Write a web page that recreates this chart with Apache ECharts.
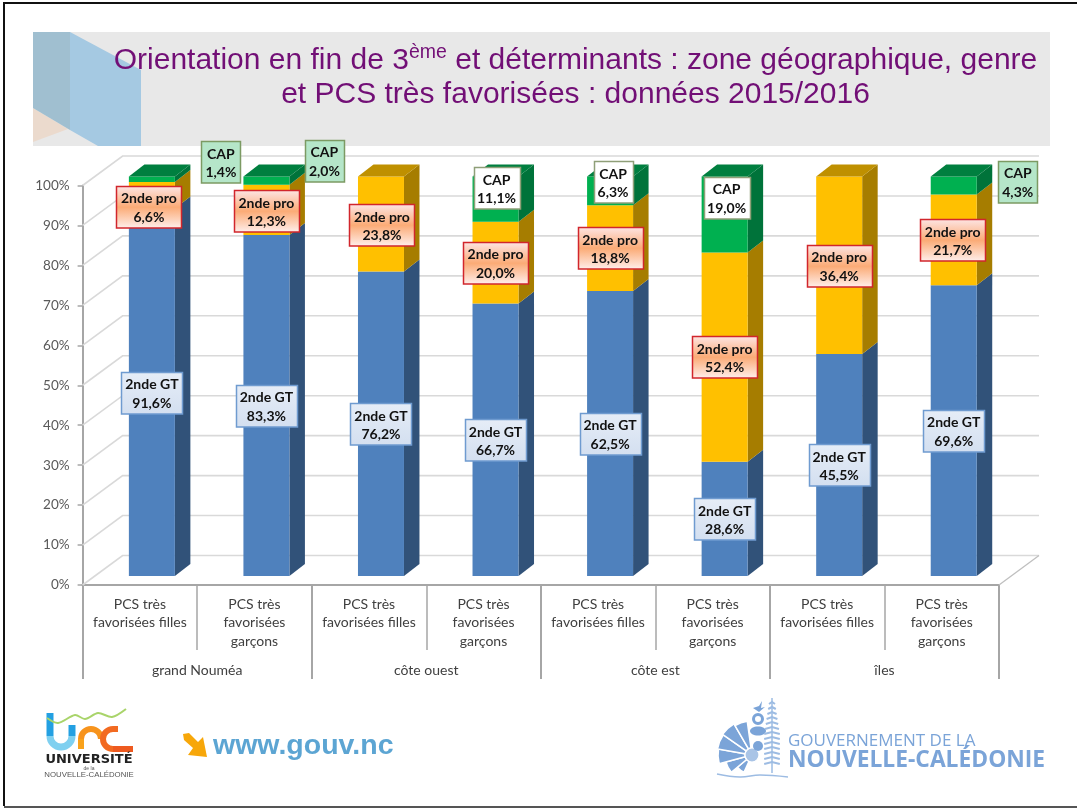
<!DOCTYPE html>
<html><head><meta charset="utf-8">
<style>html,body{margin:0;padding:0;background:#fff}#c{width:1077px;height:809px}</style>
<script src="https://cdn.jsdelivr.net/npm/echarts@6/dist/echarts.min.js"></script>
</head><body><div id="c"></div>
<script>
const categories = ['PCS très\nfavorisées filles','PCS très\nfavorisées\ngarçons','PCS très\nfavorisées filles','PCS très\nfavorisées\ngarçons','PCS très\nfavorisées filles','PCS très\nfavorisées\ngarçons','PCS très\nfavorisées filles','PCS très\nfavorisées\ngarçons'];
const groups = ['grand Nouméa','côte ouest','côte est','îles'];
const yTicks = [0,10,20,30,40,50,60,70,80,90,100];
const gt  = [91.6,83.3,76.2,66.7,62.5,28.6,45.5,69.6];
const pro = [6.6,12.3,23.8,20.0,18.8,52.4,36.4,21.7];
const cap = [1.4,2.0,0,11.1,6.3,19.0,0,4.3];

// hand-placed label nudges (px) as in the reference
const proNudge = [[-3,11],[0,1],[1,1],[0,0],[0,0],[0,0],[0,0],[-1,0]];
const capNudge = [[69,-17.5],[58,-20],[0,0],[1,-11],[3,-9],[2,-17],[0,0],[64,-4]];
const capTinted = [true,true,false,false,false,false,false,true];

const totals = gt.map((v,i)=>v+pro[i]+cap[i]);
const G = echarts.graphic;
const BAR = {left:-11,width:46,dy:-9,depthX:15.5,depthY:-12};
const WALL = {x:40,y:-29.5};
const labelFont = 'bold 14px Lato';

function fmt(v){return v.toFixed(1).replace('.',',')+'%';}

function labelBox(cx,cy,w,name,val,fill,stroke){
  const h=41.5;
  return [
    {type:'rect',shape:{x:Math.round(cx-w/2)+.5,y:Math.round(cy-h/2)+.5,width:w,height:h},style:{fill:fill,stroke:stroke,lineWidth:1.5}},
    {type:'text',style:{x:cx,y:cy+1.5,text:name+'\n'+val,align:'center',verticalAlign:'middle',font:labelFont,fill:'#111',lineHeight:18.5}}
  ];
}
const gtFill = new G.LinearGradient(0,0,0,1,[{offset:0,color:'#e6edf7'},{offset:1,color:'#d3dff0'}]);
const proFill = new G.LinearGradient(0,0,0,1,[{offset:0,color:'#fde6e6'},{offset:.5,color:'#fbab76'},{offset:1,color:'#fff0ee'}]);

function stackSeries(name,vals,below,above,front,side,top){
  const data = vals.map((v,i)=>{
    const t=totals[i];
    const start=below[i]/t*100, end=(below[i]+v)/t*100;
    return [i,start,end,v];
  });
  return {
    name:name,type:'custom',clip:false,silent:true,animation:false,
    encode:{x:0,y:[1,2]},data:data,
    renderItem:function(params,api){
      const i=api.value(0), v=api.value(3);
      if(!v) return {type:'group',children:[]};
      const pb=api.coord([i,api.value(1)]), pt=api.coord([i,api.value(2)]);
      const l=pb[0]+BAR.left, r=l+BAR.width, yb=pb[1]+BAR.dy, yt=pt[1]+BAR.dy;
      const dx=BAR.depthX, dy=BAR.depthY;
      const kids=[
        {type:'polygon',shape:{points:[[r,yb],[r+dx,yb+dy],[r+dx,yt+dy],[r,yt]]},style:{fill:side}},
        {type:'rect',shape:{x:l,y:yt,width:BAR.width,height:yb-yt},style:{fill:front}}
      ];
      if(!above[i]){
        kids.push({type:'polygon',shape:{points:[[l,yt],[l+dx,yt+dy],[r+dx,yt+dy],[r,yt]]},style:{fill:top}});
      }
      const cx=l+BAR.width/2, cy=(yb+yt)/2;
      if(name==='2nde GT'){
        kids.push(...labelBox(cx,cy,61,name,fmt(v),gtFill,'#6f9bd0'));
      }else if(name==='2nde pro'){
        kids.push(...labelBox(cx+proNudge[i][0],cy+proNudge[i][1],65,name,fmt(v),proFill,'#d1262c'));
      }else{
        const w=fmt(v).length>4?46:39;
        kids.push(...labelBox(cx+capNudge[i][0],cy+capNudge[i][1],w,name,fmt(v),capTinted[i]?'#b5e6c9':'#ffffff',capTinted[i]?'#7c9a63':'#8f9f78'));
      }
      return {type:'group',children:kids};
    }
  };
}

const wallSeries = {
  type:'custom',clip:false,silent:true,animation:false,z:1,
  encode:{x:0,y:1},data:yTicks.map(t=>[0,t]),
  renderItem:function(params,api){
    const cs=params.coordSys, y=api.coord([0,api.value(1)])[1];
    const x0=cs.x, x1=cs.x+WALL.x, x2=cs.x+cs.width+WALL.x, yb=y+WALL.y;
    const kids=[{type:'polyline',shape:{points:[[x0,y],[x1,yb],[x2,yb]]},style:{fill:'none',stroke:'#d9d9d9',lineWidth:1.6}}];
    if(api.value(1)===0){
      kids.push({type:'polyline',shape:{points:[[cs.x+cs.width,y],[x2,yb]]},style:{fill:'none',stroke:'#bfbfbf',lineWidth:1.3}});
    }
    return {type:'group',children:kids};
  }
};

const C='#a6a6a6', GOV='#7ba4d8', SKY='#5ca5d3';
const deco=[];
function add(o){deco.push(o);}
// frame
add({type:'polyline',shape:{points:[[1077,3],[4,3],[4,806]]},style:{fill:'none',stroke:'#111',lineWidth:2}});
add({type:'polyline',shape:{points:[[4,807],[1077,807]]},style:{fill:'none',stroke:'#555',lineWidth:2}});
// title band
add({type:'rect',shape:{x:33,y:32,width:1017,height:114},style:{fill:'#e8e8e8'}});
add({type:'polygon',shape:{points:[[33,108],[68,129],[33,142]]},style:{fill:'#ebdacd'}});
add({type:'polygon',shape:{points:[[70,32],[141,70],[141,146],[98,146],[70,130]]},style:{fill:'#a5c9e2'}});
add({type:'polygon',shape:{points:[[33,32],[70,32],[70,130],[33,108]]},style:{fill:'#a0bfd0'}});
// UNC logo
add({type:'polyline',shape:{points:[[50,713],[50,736]]},style:{fill:'none',stroke:'#23a0e2',lineWidth:7}});
add({type:'arc',shape:{cx:61,cy:736,r:11,startAngle:0,endAngle:Math.PI,clockwise:true},style:{fill:'none',stroke:'#7fd0f0',lineWidth:7}});
add({type:'polyline',shape:{points:[[72,725],[72,736]]},style:{fill:'none',stroke:'#23a0e2',lineWidth:7}});
add({type:'polyline',shape:{points:[[81,749],[81,739]]},style:{fill:'none',stroke:'#f9a21b',lineWidth:6}});
add({type:'arc',shape:{cx:91,cy:739,r:10,startAngle:Math.PI,endAngle:0,clockwise:true},style:{fill:'none',stroke:'#f7941d',lineWidth:6}});
add({type:'arc',shape:{cx:113,cy:739,r:10,startAngle:-Math.PI/2,endAngle:Math.PI/2,clockwise:false},style:{fill:'none',stroke:'#f26a21',lineWidth:6}});
add({type:'polyline',shape:{points:[[113,729],[118,729]]},style:{fill:'none',stroke:'#f26a21',lineWidth:6}});
add({type:'polyline',shape:{points:[[113,749],[133,749]]},style:{fill:'none',stroke:'#ee5a20',lineWidth:6}});
add({type:'polyline',shape:{points:[[47,718],[58,723],[75,715],[85,719],[98,713],[112,717],[126,709]],smooth:.3},style:{fill:'none',stroke:'#a9d46a',lineWidth:2}});
add({type:'text',style:{x:89,y:760,text:'UNIVERSITÉ',align:'center',verticalAlign:'middle',font:'900 13px "DejaVu Sans"',fill:'#222'}});
add({type:'text',style:{x:89,y:769,text:'de la',align:'center',verticalAlign:'middle',font:'5px "Liberation Sans"',fill:'#555'}});
add({type:'text',style:{x:89,y:775,text:'NOUVELLE-CALÉDONIE',align:'center',verticalAlign:'middle',font:'7.8px "Liberation Sans"',fill:'#555'}});
// www arrow
add({type:'polygon',shape:{points:[[183,734],[189,733],[198,742],[203,737],[207,757],[188,755],[193,748],[184,740]]},style:{fill:'#f7a70a'}});
add({type:'text',style:{x:213,y:746,text:'www.gouv.nc',align:'left',verticalAlign:'middle',font:'bold 28.5px "Liberation Sans"',fill:SKY}});
// government emblem
[[115,140,19],[140,165,27],[165,190,34],[190,215,35],[215,240,36],[240,262,34]].forEach(a=>{
  add({type:'sector',shape:{cx:752,cy:755,r0:7,r:a[2],startAngle:a[0]*Math.PI/180,endAngle:a[1]*Math.PI/180,clockwise:true},style:{fill:GOV,stroke:'#fff',lineWidth:1.5}});
});
add({type:'circle',shape:{cx:752,cy:755,r:7},style:{fill:'#a9c4e6',stroke:'#fff',lineWidth:1.2}});
add({type:'ring',shape:{cx:758,cy:719,r:6,r0:3},style:{fill:GOV}});
add({type:'ellipse',shape:{cx:758,cy:731,rx:8,ry:4.5},style:{fill:GOV}});
add({type:'circle',shape:{cx:758,cy:746,r:5},style:{fill:GOV}});
add({type:'polygon',shape:{points:[[753,708],[759,706],[762,701],[761,708],[765,707],[759,712]]},style:{fill:GOV}});
add({type:'polyline',shape:{points:[[772,698],[772,773]]},style:{fill:'none',stroke:'#9dbce3',lineWidth:1.5}});
[702,707,712,717,722,727,732,737,742,747,752,757,762].forEach((y,k)=>{
  const hw=3+Math.min(k,6)*.8;
  add({type:'polyline',shape:{points:[[772-hw,y+2],[772,y],[772+hw,y+2]]},style:{fill:'none',stroke:'#9dbce3',lineWidth:2}});
});
add({type:'polyline',shape:{points:[[717,774],[740,777],[760,775],[788,777]],smooth:.4},style:{fill:'none',stroke:'#9dbce3',lineWidth:1.5}});
add({type:'text',style:{x:788,y:741,text:'GOUVERNEMENT DE LA',align:'left',verticalAlign:'middle',font:'17px "Open Sans"',fill:GOV}});
add({type:'text',style:{x:788,y:761,text:'NOUVELLE-CALÉDONIE',align:'left',verticalAlign:'middle',font:'bold 22.8px "Open Sans"',fill:GOV}});

const chart=echarts.init(document.getElementById('c'),null,{renderer:'canvas'});
const titleText='{a|Orientation en fin de 3}{s|ème}{a| et déterminants : zone géographique, genre}\n{a|et PCS très favorisées : données 2015/2016}';
chart.setOption({
  animation:false,
  backgroundColor:'#ffffff',
  graphic:{elements:deco},
  title:{
    text:titleText,left:570.5,top:38,textAlign:'center',
    textStyle:{fontWeight:'normal',rich:{
      a:{fontFamily:'Liberation Sans',fontWeight:'normal',fontSize:30,color:'#720f76',lineHeight:34.5},
      s:{fontFamily:'Liberation Sans',fontWeight:'normal',fontSize:19.5,color:'#720f76',lineHeight:34.5,verticalAlign:'top',padding:[0,0,6,0]}
    }}
  },
  grid:{left:82.6,right:78,top:185.5,bottom:224,containLabel:false},
  xAxis:[
    {type:'category',data:categories,position:'bottom',
     axisLine:{show:true,lineStyle:{color:C,width:2}},
     axisTick:{show:true,alignWithLabel:false,length:65,lineStyle:{color:C,width:1.5}},
     axisLabel:{interval:0,margin:10,fontFamily:'Lato',fontSize:14,color:'#404040',lineHeight:18.5,verticalAlign:'top'},
     splitLine:{show:false}},
    {type:'category',data:groups,position:'bottom',
     axisLine:{show:true,lineStyle:{color:C,width:2}},
     axisTick:{show:true,alignWithLabel:false,length:94,lineStyle:{color:C,width:2}},
     axisLabel:{interval:0,margin:78,fontFamily:'Lato',fontSize:14,color:'#404040'},
     splitLine:{show:false}}
  ],
  yAxis:{type:'value',min:0,max:100,interval:10,
    axisLine:{show:true,lineStyle:{color:C,width:2}},
    axisTick:{show:true,length:5,lineStyle:{color:C,width:1.5}},
    axisLabel:{margin:13,fontFamily:'Lato',fontSize:13.5,color:'#595959',formatter:'{value}%',padding:[5,0,0,0]},
    splitLine:{show:false}},
  series:[
    wallSeries,
    Object.assign(stackSeries('2nde GT',gt,gt.map(()=>0),pro.map((v,i)=>v+cap[i]),'#4f81bd','#315279','#4f81bd'),{z:3}),
    Object.assign(stackSeries('2nde pro',pro,gt,cap,'#ffc000','#a67d00','#bf9000'),{z:4}),
    Object.assign(stackSeries('CAP',cap,gt.map((v,i)=>v+pro[i]),cap.map(()=>0),'#00b050','#00733a','#007f3f'),{z:5})
  ]
});
</script></body></html>
